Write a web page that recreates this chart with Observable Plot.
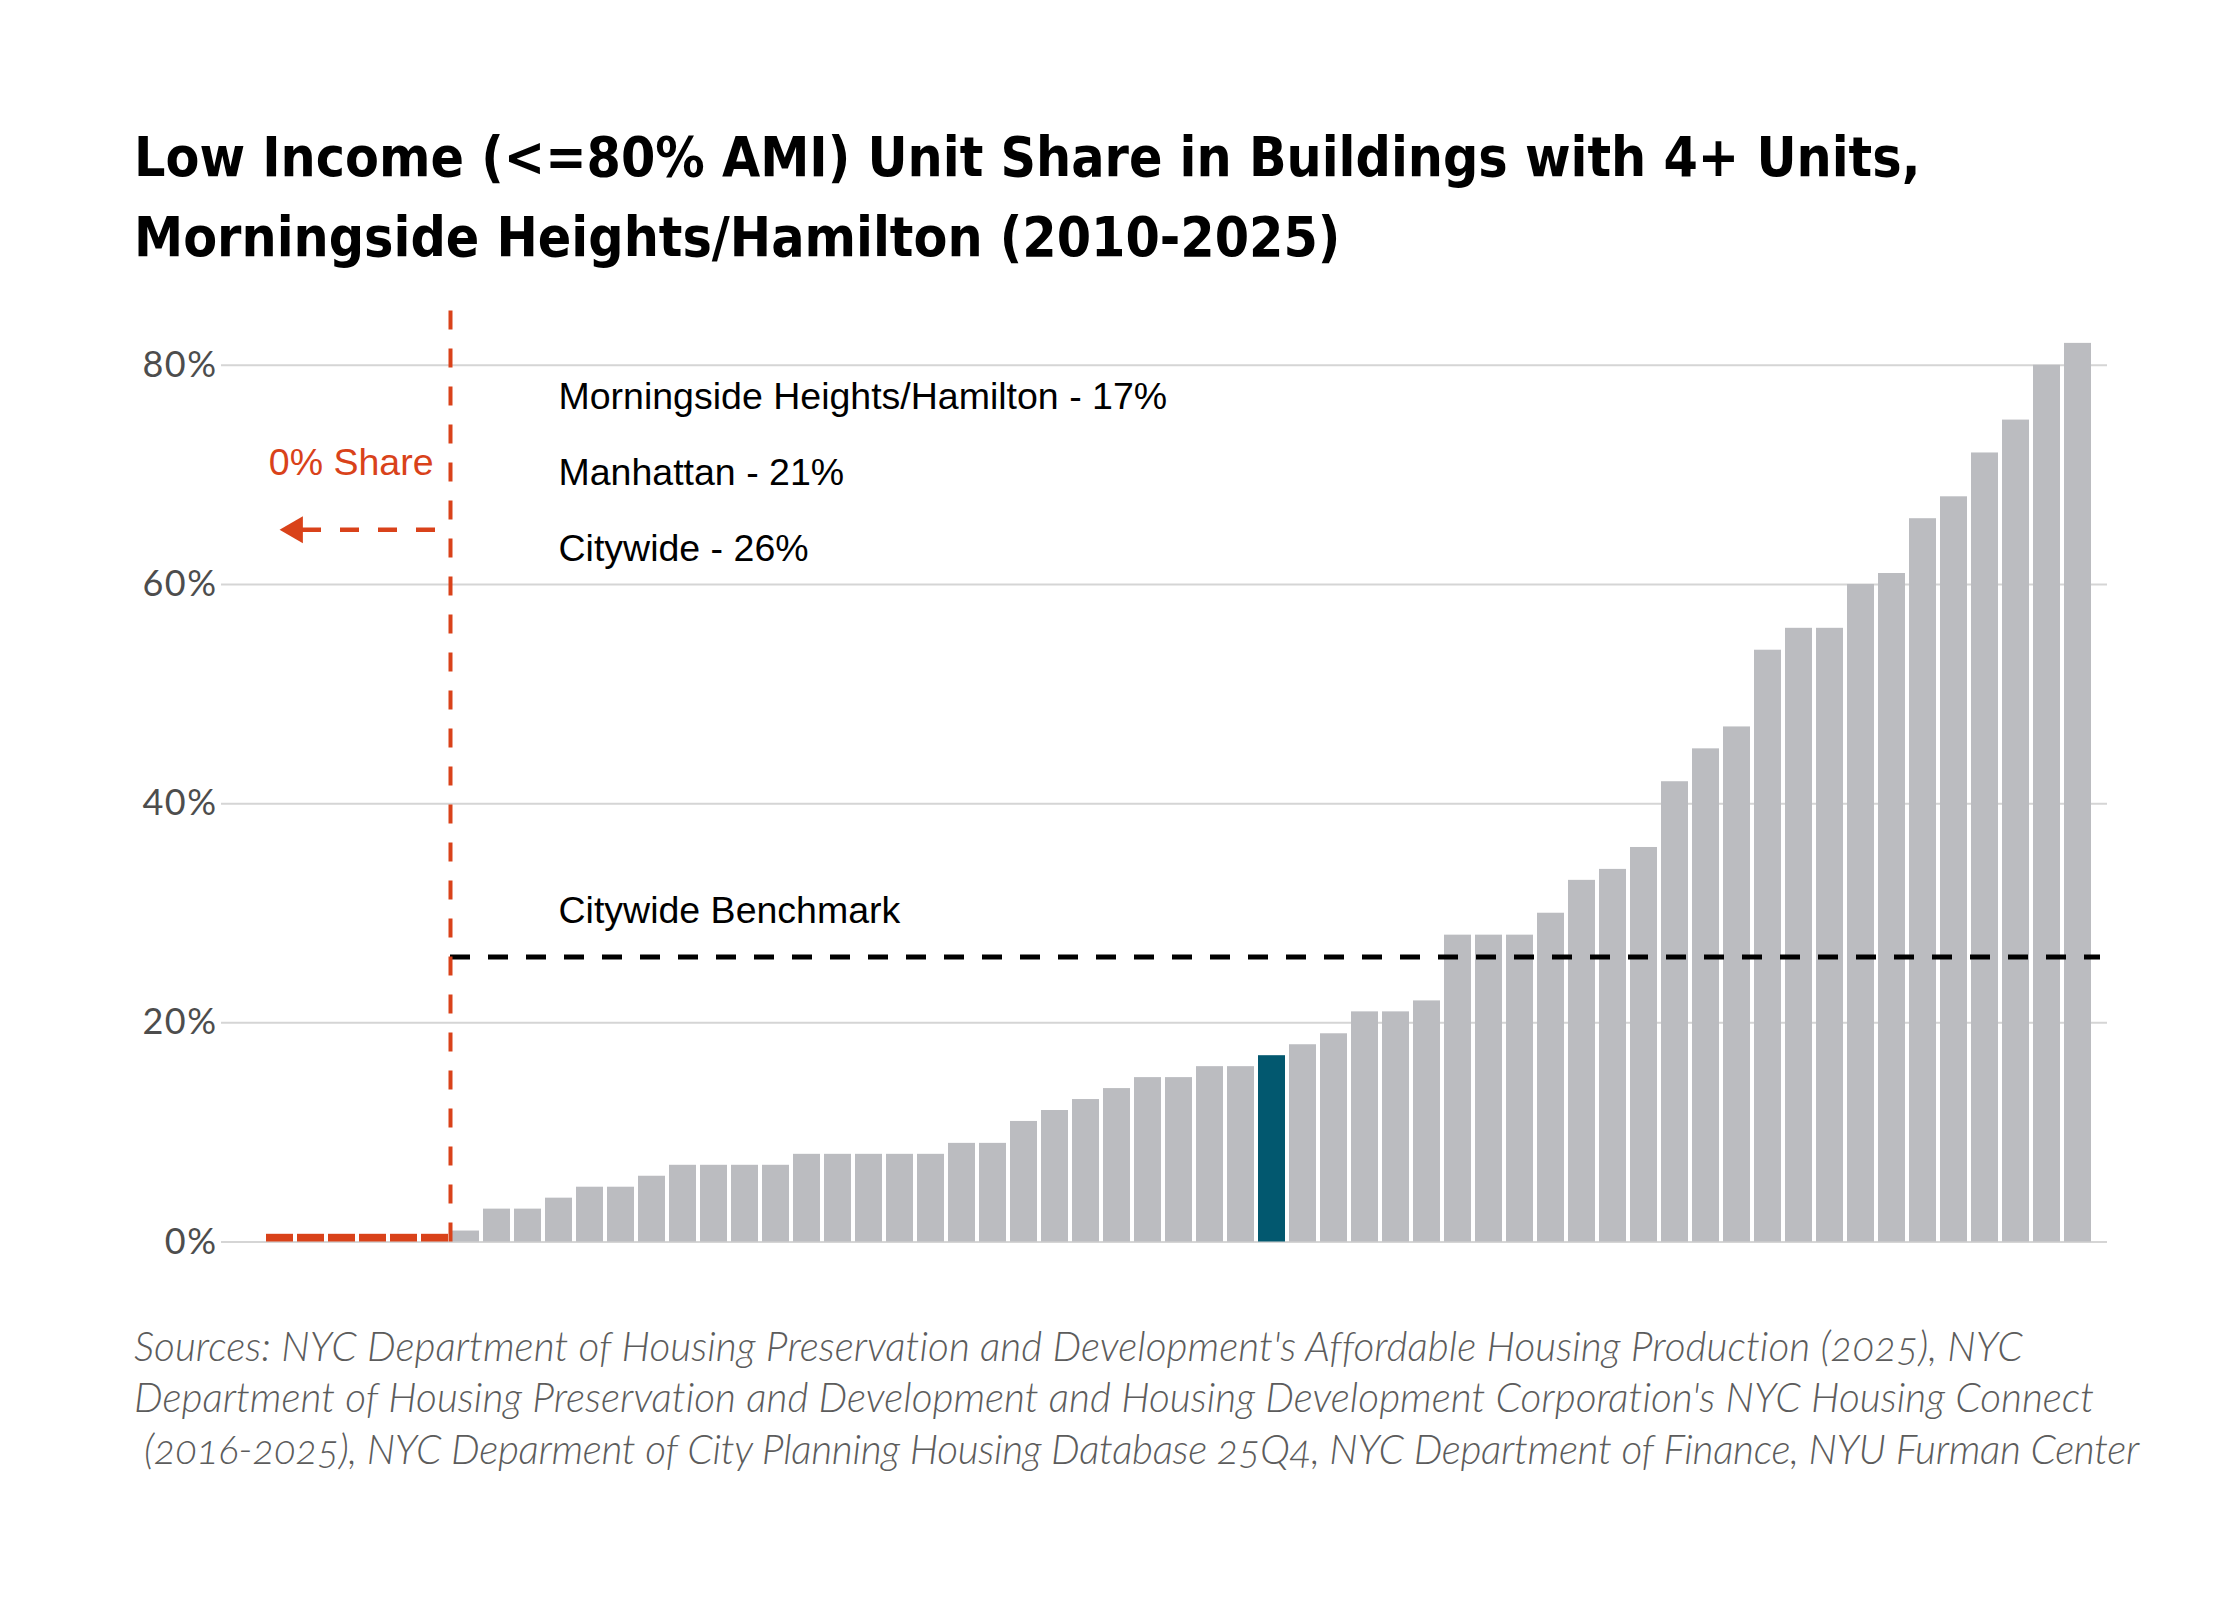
<!DOCTYPE html>
<html>
<head>
<meta charset="utf-8">
<script src="https://cdn.jsdelivr.net/npm/d3@7"></script>
<script src="https://cdn.jsdelivr.net/npm/@observablehq/plot@0.6"></script>
<style>
  html, body { margin: 0; padding: 0; background: #fff; }
  #page { position: relative; width: 2240px; height: 1600px; background: #fff; overflow: hidden; }
  #title { position: absolute; left: 134px; top: 117px; font-family: "Liberation Sans Narrow", "DejaVu Sans Condensed", "Liberation Sans", sans-serif; font-weight: 700; font-size: 56px; line-height: 80px; color: #000; white-space: pre; font-variant-numeric: oldstyle-nums; }
  #chart { position: absolute; left: 0; top: 280px; }
  #caption { position: absolute; left: 134px; top: 1320px; font-family: Lato, "Open Sans", sans-serif; font-style: italic; font-weight: 300; font-size: 32px; line-height: 51.4px; color: #5c5c5c; white-space: pre; font-variant-numeric: oldstyle-nums; }
  .line { display: inline-block; }
</style>
</head>
<body>
<div id="page">
  <div id="title"></div>
  <div id="chart"></div>
  <div id="caption"></div>
</div>
<script>
// ---- data ----
const titleLines = [
  "Low Income (<=80% AMI) Unit Share in Buildings with 4+ Units,",
  "Morningside Heights/Hamilton (2010-2025)"
];
const captionLines = [
  "Sources: NYC Department of Housing Preservation and Development's Affordable Housing Production (2025), NYC",
  "Department of Housing Preservation and Development and Housing Development Corporation's NYC Housing Connect",
  " (2016-2025), NYC Deparment of City Planning Housing Database 25Q4, NYC Department of Finance, NYU Furman Center"
];
// low-income unit share (%) of each community district, sorted ascending
const shareValues = [
  0, 0, 0, 0, 0, 0,
  1, 3, 3, 4, 5, 5, 6, 7, 7, 7, 7, 8, 8, 8, 8, 8, 9, 9,
  11, 12, 13, 14, 15, 15, 16, 16, 17, 18, 19, 21, 21, 22,
  28, 28, 28, 30, 33, 34, 36, 42, 45, 47, 54, 56, 56, 60, 61,
  66, 68, 72, 75, 80, 82
];
const compareLabels = ["Morningside Heights/Hamilton", "Manhattan", "Citywide"];
const compareValues = [17, 21, 26];
const benchmarkLabel = "Citywide Benchmark";
const zeroLabel = "0% Share";
const yTicks = [0, 20, 40, 60, 80];

// ---- layout / style ----
const layout = {
  yMax: 85,
  compareLabelY: [76, 69.05, 62.1],
  benchmarkLabelY: 29.1,
  zeroLabelY: 70,
  arrowY: 65,
  labelDx: 108,
  titleWidth: 1787,
  captionWidths: [1887, 1959, 2005]
};
const colors = { other: "#bbbcc0", focus: "#02586f", zero: "#d9421a", grid: "#d5d5d5", tick: "#4d4d4d" };
const annFont = "'Liberation Sans', Arial, sans-serif";

// ---- build ----
const esc = t => t.replace(/&/g, "&amp;").replace(/</g, "&lt;");
document.getElementById("title").innerHTML = titleLines.map(t => `<span class="line">${esc(t)}</span>`).join("<br>");
document.getElementById("caption").innerHTML = captionLines.map(t => `<span class="line">${esc(t)}</span>`).join("<br>");

const rows = shareValues.map((v, i) => ({
  rank: i + 1,
  value: v,
  kind: v === 0 ? "zero" : (v === compareValues[0] ? "focus" : "other")
}));
const n = rows.length;
const zeroCount = rows.filter(d => d.kind === "zero").length;
const boundary = zeroCount + 1;
const compareRows = compareLabels.map((l, i) => ({ label: `${l} - ${compareValues[i]}%`, y: layout.compareLabelY[i] }));

const chart = Plot.plot({
  width: 2240,
  height: 1020,
  marginLeft: 221,
  marginRight: 133,
  marginTop: 30,
  marginBottom: 58.5,
  style: { fontFamily: "Lato, 'Open Sans', sans-serif", fontSize: "36px", color: colors.tick, background: "#fff", fontVariantNumeric: "oldstyle-nums", letterSpacing: "1.5px" },
  x: { type: "linear", domain: [1, n + 1], insetLeft: 43, insetRight: 14, axis: null },
  y: { domain: [0, layout.yMax], label: null },
  marks: [
    Plot.gridY(yTicks, { stroke: colors.grid, strokeOpacity: 1, strokeWidth: 2 }),
    Plot.axisY(yTicks, { tickSize: 0, tickPadding: 4, tickFormat: d => d + "%", label: null, fontSize: 36 }),
    Plot.rectY(rows.filter(d => d.kind !== "zero"), {
      x: "rank", interval: 1, y: "value",
      fill: d => colors[d.kind], insetLeft: 2, insetRight: 2
    }),
    Plot.rectY(rows.filter(d => d.kind === "zero"), {
      x: "rank", interval: 1, y: "value",
      fill: colors.zero, insetLeft: 2, insetRight: 2, insetTop: -7.7
    }),
    Plot.ruleY([compareValues[2]], {
      x1: boundary, x2: n + 1, stroke: "#000", strokeWidth: 5, strokeDasharray: "20,18", insetRight: -7
    }),
    Plot.ruleX([boundary], {
      y1: 0, y2: layout.yMax, stroke: colors.zero, strokeWidth: 4, strokeDasharray: "19,19"
    }),
    Plot.ruleY([layout.arrowY], {
      x1: 1, x2: boundary, insetLeft: 26, insetRight: 15, stroke: colors.zero, strokeWidth: 4.5,
      strokeDasharray: "19,19", strokeDashoffset: 26
    }),
    Plot.dot([{ x: 1, y: layout.arrowY }], {
      x: "x", y: "y", symbol: "triangle", r: 10, rotate: -90, fill: colors.zero, stroke: null, dx: 30.6
    }),
    Plot.text([zeroLabel], {
      x: boundary, y: layout.zeroLabelY, text: d => d, textAnchor: "end", lineAnchor: "bottom", dx: -17,
      fill: colors.zero, fontSize: 37.5, fontFamily: annFont
    }),
    Plot.text(compareRows, {
      x: boundary, y: "y", text: "label", textAnchor: "start", lineAnchor: "bottom", dx: layout.labelDx,
      fill: "#000", fontSize: 37.5, fontFamily: annFont
    }),
    Plot.text([benchmarkLabel], {
      x: boundary, y: layout.benchmarkLabelY, text: d => d, textAnchor: "start", lineAnchor: "bottom", dx: layout.labelDx,
      fill: "#000", fontSize: 37.5, fontFamily: annFont
    })
  ]
});
// annotation texts use normal letter spacing
chart.querySelectorAll("g[aria-label='text'] text").forEach(t => t.style.letterSpacing = "0px");
document.getElementById("chart").appendChild(chart);

// fit title and caption widths to the reference text block widths
function fitSize(el, lineIdx, target) {
  const span = el.querySelectorAll(".line")[lineIdx];
  const w = span.getBoundingClientRect().width;
  const fs = parseFloat(getComputedStyle(el).fontSize);
  if (w > 0) el.style.fontSize = (fs * target / w) + "px";
}
function fitSpacing(el, targets) {
  el.querySelectorAll(".line").forEach((span, i) => {
    const w = span.getBoundingClientRect().width;
    const chars = span.textContent.length;
    if (w > 0 && chars > 1) span.style.letterSpacing = ((targets[i] - w) / chars) + "px";
  });
}
fitSize(document.getElementById("title"), 0, layout.titleWidth);
const cap = document.getElementById("caption");
fitSize(cap, 1, layout.captionWidths[1]);
fitSpacing(cap, layout.captionWidths);
</script>
</body>
</html>
